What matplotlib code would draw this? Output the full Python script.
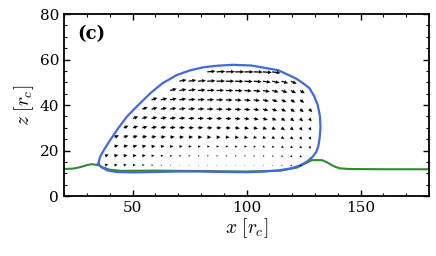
import numpy as np
import matplotlib.pyplot as plt
from matplotlib.ticker import MultipleLocator

plt.rcParams['font.family'] = 'DejaVu Serif'
plt.rcParams['mathtext.fontset'] = 'cm'

# droplet outline (blue), traced counter-clockwise from the left contact point
drop_x = [35.0, 36.5, 39.0, 43.0, 50.0, 60.0, 70.0, 80.0, 90.0, 100.0, 108.0, 114.0,
          119.0, 123.0, 126.4, 129.0, 130.6, 131.5, 132.1, 132.4, 132.2, 131.2, 129.6,
          127.5, 124.9, 122.0, 114.0, 102.0, 94.0, 87.0, 81.0, 75.0, 69.4, 63.0, 57.7,
          52.5, 47.5, 43.5, 40.2, 37.6, 35.8, 35.0]
drop_z = [14.2, 12.6, 11.3, 10.6, 10.4, 10.6, 10.8, 10.8, 10.6, 10.5, 10.8, 11.3,
          12.1, 13.3, 15.1, 17.3, 19.5, 22.0, 26.0, 30.0, 35.0, 40.0, 44.0,
          47.5, 49.5, 51.5, 55.3, 57.4, 57.7, 57.3, 56.6, 55.2, 53.2, 49.5, 45.1,
          40.0, 34.9, 29.5, 24.6, 20.5, 17.3, 14.2]

# film height (green)
film_x = [20, 24, 27, 30, 32, 34, 35, 37, 40, 45, 60, 80, 100, 115, 122, 126,
          128.6, 133, 135, 137.4, 139, 141, 145, 160, 180]
film_z = [11.9, 12.1, 12.7, 13.6, 14.0, 13.8, 13.6, 12.6, 11.6, 11.1, 11.2, 11.0,
          10.8, 11.2, 12.5, 14.5, 15.8, 15.8, 15.0, 13.6, 12.8, 12.2, 11.9, 11.8, 11.8]

# velocity grid inside the droplet
grid_x0, grid_dx = 38.0, 4.07
grid_z0, grid_dz = 13.6, 4.1

# first column index of each row (bottom row first) and the arrow components
row_start = [0, 0, 1, 1, 2, 3, 4, 5, 7, 8, 11]
u_rows = [
    [1.4, 1.4, 1.3, 1.2, 1.0, 0.8, 0.6, 0.5, 0.4, 0.4, 0.4, 0.4, 0.4, 0.4, 0.4, 0.4, 0.4, 0.4, 0.4, 0.5, 0.6, 0.7],
    [1.6, 1.7, 1.7, 1.6, 1.5, 1.3, 1.1, 1.0, 0.9, 0.8, 0.7, 0.7, 0.7, 0.7, 0.7, 0.7, 0.7, 0.7, 0.7, 0.7, 0.7, 0.7],
    [1.8, 1.9, 1.9, 1.8, 1.7, 1.6, 1.5, 1.4, 1.3, 1.2, 1.1, 1.1, 1.1, 1.1, 1.1, 1.0, 1.0, 1.0, 1.0, 0.9, 0.8, 0.7],
    [2.0, 2.1, 2.1, 2.1, 2.1, 2.1, 2.0, 2.0, 1.9, 1.9, 1.8, 1.8, 1.7, 1.7, 1.6, 1.5, 1.4, 1.3, 1.2, 1.1, 0.9, 0.8],
    [2.1, 2.2, 2.3, 2.4, 2.4, 2.4, 2.4, 2.3, 2.3, 2.3, 2.2, 2.2, 2.1, 2.0, 1.9, 1.8, 1.6, 1.5, 1.3, 1.1, 0.9],
    [2.3, 2.4, 2.5, 2.6, 2.6, 2.6, 2.6, 2.6, 2.5, 2.5, 2.5, 2.4, 2.3, 2.2, 2.1, 1.9, 1.7, 1.5, 1.3, 1.0],
    [2.4, 2.6, 2.7, 2.8, 2.8, 2.8, 2.8, 2.8, 2.8, 2.7, 2.7, 2.6, 2.5, 2.4, 2.2, 2.0, 1.8, 1.6, 1.3],
    [2.6, 2.8, 2.9, 3.0, 3.0, 3.0, 3.0, 3.0, 3.0, 2.9, 2.8, 2.7, 2.6, 2.4, 2.2, 2.0, 1.8],
    [2.9, 3.1, 3.2, 3.3, 3.3, 3.3, 3.3, 3.3, 3.2, 3.1, 3.0, 2.8, 2.6, 2.3, 2.1],
    [3.1, 3.3, 3.5, 3.6, 3.7, 3.7, 3.7, 3.6, 3.5, 3.4, 3.2, 2.9, 2.6],
    [3.6, 3.8, 4.0, 4.0, 4.0, 4.0, 3.9, 3.6],
]
v_rows = [
    [0.3, 0.2, 0.2, 0.1, 0.1, 0, 0, 0, 0, 0, 0, 0, 0, 0, 0, 0, 0, -0.1, -0.2, -0.3, -0.4, -0.5],
    [0.5, 0.4, 0.3, 0.2, 0.2, 0.1, 0.1, 0, 0, 0, 0, 0, 0, 0, 0, 0, -0.1, -0.2, -0.3, -0.5, -0.7, -0.8],
    [0.6, 0.5, 0.4, 0.3, 0.2, 0.2, 0.1, 0.1, 0, 0, 0, 0, 0, -0.1, -0.1, -0.2, -0.3, -0.4, -0.6, -0.8, -0.9, -1.0],
    [0.8, 0.7, 0.6, 0.5, 0.4, 0.3, 0.2, 0.1, 0.1, 0, 0, 0, -0.1, -0.2, -0.3, -0.4, -0.5, -0.7, -0.8, -1.0, -1.1, -1.1],
    [0.9, 0.8, 0.6, 0.5, 0.4, 0.3, 0.2, 0.1, 0.1, 0, 0, -0.1, -0.2, -0.3, -0.4, -0.6, -0.8, -1.0, -1.1, -1.2, -1.2],
    [0.9, 0.8, 0.6, 0.5, 0.4, 0.3, 0.2, 0.1, 0, 0, -0.1, -0.2, -0.3, -0.5, -0.6, -0.8, -1.0, -1.2, -1.3, -1.3],
    [0.9, 0.7, 0.6, 0.5, 0.4, 0.3, 0.2, 0.1, 0, -0.1, -0.2, -0.3, -0.4, -0.6, -0.8, -1.0, -1.2, -1.3, -1.3],
    [0.9, 0.7, 0.6, 0.5, 0.3, 0.2, 0.1, 0, -0.1, -0.2, -0.3, -0.4, -0.6, -0.8, -1.0, -1.2, -1.3],
    [0.8, 0.6, 0.5, 0.3, 0.2, 0.1, 0, -0.1, -0.2, -0.4, -0.5, -0.7, -0.9, -1.1, -1.2],
    [0.6, 0.5, 0.3, 0.2, 0.1, 0, -0.1, -0.2, -0.3, -0.5, -0.7, -0.9, -1.1],
    [0.3, 0.2, 0.1, 0, 0, -0.1, -0.3, -0.5],
]

# flatten the rows into arrow positions
qx, qz, qu, qv = [], [], [], []
for j in range(len(row_start)):
    for i in range(len(u_rows[j])):
        qx.append(grid_x0 + grid_dx * (row_start[j] + i))
        qz.append(grid_z0 + grid_dz * j)
        qu.append(u_rows[j][i])
        qv.append(v_rows[j][i])

fig = plt.figure(figsize=(4.36, 2.56), dpi=100)
ax = fig.add_axes([0.147, 0.234, 0.837, 0.711])

ax.plot(film_x, film_z, color='#2e8b2e', lw=1.5, zorder=2)
ax.plot(drop_x, drop_z, color='#4169e1', lw=1.6, zorder=3)
ax.quiver(qx, qz, qu, qv, angles='xy', scale_units='xy', scale=1,
          width=0.0034, headwidth=3.0, headlength=3.2, headaxislength=3.0,
          minlength=0.5, color='black', zorder=4)

ax.set_xlim(20, 180)
ax.set_ylim(0, 80)
ax.xaxis.set_major_locator(MultipleLocator(50))
ax.xaxis.set_minor_locator(MultipleLocator(10))
ax.yaxis.set_major_locator(MultipleLocator(20))
ax.yaxis.set_minor_locator(MultipleLocator(5))
ax.tick_params(which='both', direction='in', top=True, right=True, labelsize=11)
ax.tick_params(which='major', length=4, width=1)
ax.tick_params(which='minor', length=2.5, width=0.8)
for s in ax.spines.values():
    s.set_linewidth(1.3)

ax.set_xlabel(r'$x\ [r_c]$', fontsize=14, labelpad=1)
ax.set_ylabel(r'$z\ [r_c]$', fontsize=14, labelpad=3)
ax.text(0.035, 0.86, '(c)', transform=ax.transAxes, fontsize=13, fontweight='bold')

fig.savefig('out.png', dpi=100)
